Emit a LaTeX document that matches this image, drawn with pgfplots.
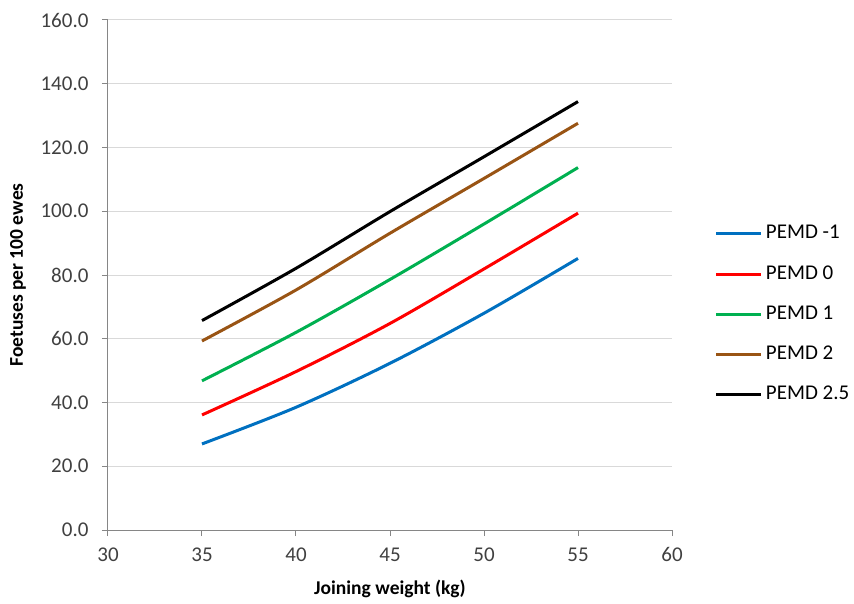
\documentclass[border=0pt]{standalone}
\usepackage{pgfplots}
\pgfplotsset{compat=1.18}
\usepackage{fontspec}
\setmainfont{Carlito}
\definecolor{cblue}{HTML}{0070C0}
\definecolor{cred}{HTML}{FF0000}
\definecolor{cgreen}{HTML}{00B050}
\definecolor{cbrown}{RGB}{153,84,20}
\definecolor{gridc}{HTML}{D9D9D9}
\definecolor{axisc}{HTML}{868686}
\definecolor{tickc}{HTML}{404040}
\begin{document}
\begin{tikzpicture}
\begin{axis}[
  scale only axis,
  width=564pt, height=510pt,
  xmin=30, xmax=60, ymin=0, ymax=160,
  xtick={30,35,...,60}, ytick={0,20,...,160},
  axis x line*=bottom, axis y line*=left,
  axis line style={axisc, line width=1pt, -},
  tick align=outside,
  major tick length=6pt,
  tick style={axisc, line width=1pt},
  ymajorgrids,
  grid style={gridc, line width=1pt},
  /pgf/number format/assume math mode=true,
  tick label style={font=\fontsize{21}{24}\selectfont, text=tickc},
  yticklabel style={xshift=-10pt, /pgf/number format/.cd, fixed, fixed zerofill, precision=1},
  xticklabel style={yshift=-8pt, /pgf/number format/.cd, fixed, precision=0},
  xlabel={Joining weight (kg)},
  ylabel={Foetuses per 100 ewes},
  label style={font=\fontsize{19.5}{22}\selectfont\bfseries},
  xlabel style={at={(axis description cs:0.5,0)}, anchor=center, yshift=-59pt},
  ylabel style={at={(axis description cs:0,0.5)}, anchor=center, rotate=0, yshift=90pt},
  legend style={draw=none, fill=none, inner sep=0pt, outer sep=0pt,
    at={(1.0762,0.600)}, anchor=north west,
    font=\fontsize{21}{24}\selectfont,
    nodes={inner sep=0pt, text height=15pt, text depth=5pt},
    row sep=20.2pt, column sep=3pt},
  legend cell align=left,
  legend image code/.code={\draw[#1] (0pt,0pt) -- (45pt,0pt);},
  every axis plot/.append style={line width=3pt, smooth},
]
\addplot[cblue] coordinates {(35,27.0) (40,38.5) (45,52.3) (50,68.0) (55,85.2)};
\addlegendentry{PEMD -1}
\addplot[cred] coordinates {(35,36.1) (40,49.7) (45,64.8) (50,81.9) (55,99.4)};
\addlegendentry{PEMD 0}
\addplot[cgreen] coordinates {(35,46.8) (40,62.0) (45,78.6) (50,96.0) (55,113.7)};
\addlegendentry{PEMD 1}
\addplot[cbrown] coordinates {(35,59.3) (40,75.3) (45,93.1) (50,110.3) (55,127.6)};
\addlegendentry{PEMD 2}
\addplot[black] coordinates {(35,65.7) (40,82.1) (45,99.9) (50,117.1) (55,134.4)};
\addlegendentry{PEMD 2.5}
\end{axis}
\pgfresetboundingbox
\path[use as bounding box] ([xshift=-108pt,yshift=-73pt]current axis.south west) rectangle ([xshift=182pt,yshift=20pt]current axis.north east);
\end{tikzpicture}
\end{document}
